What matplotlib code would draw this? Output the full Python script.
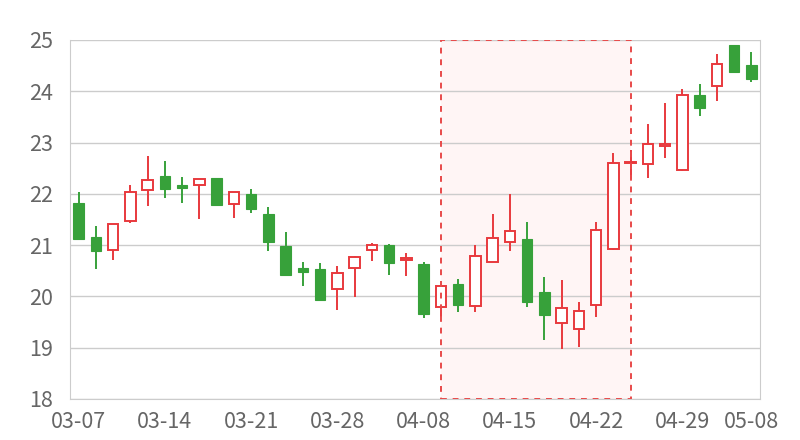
import numpy as np
import matplotlib
matplotlib.use("Agg")
import matplotlib.pyplot as plt
from matplotlib.patches import Rectangle

# Datos diarios (2024): fecha, apertura, cierre, mínimo, máximo
fechas = ["03-07", "03-08", "03-11", "03-12", "03-13", "03-14", "03-15", "03-18",
          "03-19", "03-20", "03-21", "03-22", "03-25", "03-26", "03-27", "03-28",
          "03-29", "04-01", "04-02", "04-03", "04-08", "04-09", "04-10", "04-11",
          "04-12", "04-15", "04-16", "04-17", "04-18", "04-19", "04-22", "04-23",
          "04-24", "04-25", "04-26", "04-29", "04-30", "05-06", "05-07", "05-08"]
apertura = [21.83, 21.15, 20.91, 21.48, 22.07, 22.35, 22.18, 22.17, 22.30, 21.80,
            22.00, 21.60, 20.98, 20.55, 20.53, 20.14, 20.55, 20.90, 21.01, 20.71,
            20.63, 19.79, 20.24, 19.81, 20.68, 21.06, 21.11, 20.09, 19.49, 19.37,
            19.84, 20.92, 22.60, 22.59, 22.93, 22.46, 23.93, 24.10, 24.90, 24.51]
cierre = [21.12, 20.89, 21.41, 22.04, 22.27, 22.10, 22.11, 22.28, 21.78, 22.03,
          21.70, 21.07, 20.42, 20.48, 19.93, 20.45, 20.76, 21.01, 20.66, 20.74,
          19.65, 20.20, 19.84, 20.79, 21.14, 21.28, 19.90, 19.64, 19.77, 19.72,
          21.29, 22.61, 22.62, 22.97, 22.97, 23.92, 23.67, 24.54, 24.37, 24.23]
minimo = [21.10, 20.53, 20.71, 21.44, 21.76, 21.91, 21.82, 21.51, 21.77, 21.53,
          21.63, 20.89, 20.40, 20.20, 19.91, 19.74, 19.99, 20.70, 20.41, 20.40,
          19.57, 19.59, 19.70, 19.69, 20.67, 20.89, 19.80, 19.15, 18.98, 19.01,
          19.60, 20.91, 22.28, 22.30, 22.70, 22.45, 23.51, 23.82, 23.90, 24.19]
maximo = [22.04, 21.37, 21.42, 22.17, 22.73, 22.65, 22.33, 22.29, 22.31, 22.04,
          22.09, 21.74, 21.25, 20.68, 20.65, 20.59, 20.79, 21.05, 21.02, 20.85,
          20.68, 20.21, 20.33, 21.00, 21.61, 22.00, 21.45, 20.37, 20.32, 19.89,
          21.45, 22.79, 22.85, 23.37, 23.77, 24.04, 24.15, 24.72, 23.91, 24.77]

zona_inicio = "04-09"
zona_fin = "04-24"

ROJO = "#e8393d"
VERDE = "#37a13a"
GRIS = "#cccccc"
TEXTO = "#666666"

plt.rcParams["font.family"] = ["Noto Sans CJK SC", "DejaVu Sans"]

fig = plt.figure(figsize=(8, 4.4), dpi=100)
ax = fig.add_axes([0.0875, 0.0932, 0.8625, 0.8159])

x = np.arange(len(fechas))
o = np.array(apertura)
c = np.array(cierre)
lo = np.array(minimo)
hi = np.array(maximo)
sube = c >= o

# Zona marcada
i0, i1 = fechas.index(zona_inicio), fechas.index(zona_fin)
ax.add_patch(Rectangle((i0, 18), i1 - i0, 7, facecolor="#fff5f5", edgecolor="none", zorder=0.5))
ax.add_patch(Rectangle((i0, 18), i1 - i0, 7, facecolor="none", edgecolor="#e84a4a",
                       linestyle=(0, (3, 3)), linewidth=1.4, zorder=4))

# Mechas
colores = np.where(sube, ROJO, VERDE)
ax.vlines(x, lo, hi, colors=colores, linewidth=1.4, zorder=2)

# Cuerpos
ancho = 0.62
alto = np.maximum(np.abs(c - o), 0.03)
base = np.minimum(o, c)
ax.bar(x[sube], alto[sube], ancho, bottom=base[sube], facecolor="white",
       edgecolor=ROJO, linewidth=1.4, zorder=3)
ax.bar(x[~sube], alto[~sube], ancho, bottom=base[~sube], facecolor=VERDE,
       edgecolor=VERDE, linewidth=0.8, zorder=3)

ax.set_xlim(-0.5, len(fechas) - 0.5)
ax.set_ylim(18, 25)
ax.set_yticks(range(18, 26))
ticks = list(range(0, len(fechas), 5)) + [len(fechas) - 1]
ax.set_xticks(ticks)
ax.set_xticklabels([fechas[i] for i in ticks])

ax.grid(axis="y", color=GRIS, linewidth=1, zorder=0)
ax.set_axisbelow(True)
for lado in ["left", "right", "bottom"]:
    ax.spines[lado].set_color(GRIS)
ax.spines["top"].set_visible(False)
ax.tick_params(length=0, labelsize=15.5, colors=TEXTO)
ax.tick_params(axis="y", pad=12)
ax.tick_params(axis="x", pad=9)

fig.savefig("out.png", dpi=100)
